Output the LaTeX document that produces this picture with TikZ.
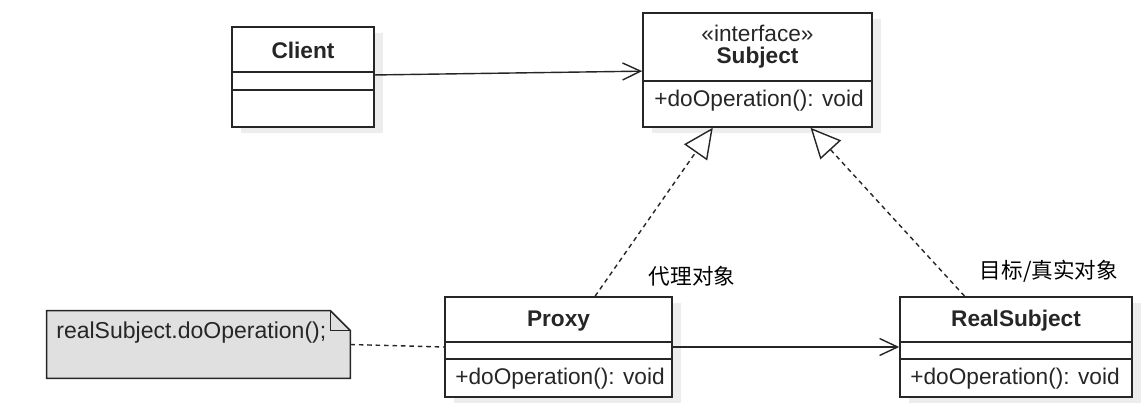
\documentclass[tikz,border=0pt]{standalone}
\usepackage{fontspec}
\setmainfont{Liberation Sans}
\newfontfamily\cjk{Noto Sans CJK SC}
\usetikzlibrary{arrows.meta,calc,shadows}
\definecolor{ink}{HTML}{262626}
\definecolor{notefill}{HTML}{E0E0E0}
\tikzset{
  umlbox/.style={draw=ink, line width=0.9pt, fill=white, inner sep=0pt,
    drop shadow={shadow xshift=0.18cm, shadow yshift=-0.12cm, fill=black!7, opacity=1}},
  divider/.style={draw=ink, line width=0.9pt},
  txt/.style={text=ink, font=\fontsize{12.9}{15}\selectfont, inner sep=0pt},
  title/.style={txt, font=\fontsize{12.9}{15}\selectfont\bfseries},
  assoc/.style={draw=ink, line width=0.8pt, -{Straight Barb[length=0.36cm, width=0.34cm, line width=0.8pt]}},
  realize/.style={draw=ink, line width=0.8pt, dash pattern=on 2.6pt off 2.2pt,
    -{Triangle[open, length=0.6cm, width=0.56cm, line width=0.8pt, fill=white]}},
  noteline/.style={draw=ink, line width=0.8pt, dash pattern=on 2.6pt off 2.2pt},
  cjklabel/.style={text=black, font=\cjk\fontsize{12.3}{14}\selectfont, inner sep=0pt}
}
\begin{document}
\begin{tikzpicture}[x=0.02cm, y=-0.02cm]
\useasboundingbox[fill=white] (0,0) rectangle (1146,415);

% Client
\node[umlbox, minimum width=142*0.02cm, minimum height=100*0.02cm] (Client) at (303,77) {};
\draw[divider] (232,72) -- (374,72);
\draw[divider] (232,90) -- (374,90);
\node[title] (ClientName) at (303,50) {Client};

% Subject
\node[umlbox, minimum width=229*0.02cm, minimum height=114*0.02cm] (Subject) at (757.5,70) {};
\draw[divider] (643,81) -- (872,81);
\node[txt] (SubjectStereo) at (757.5,33) {«interface»};
\node[title] (SubjectName) at (757.5,58) {Subject};
\node[txt, anchor=west] (SubjectOp) at (654,101) {+doOperation(): void};

% Proxy
\node[umlbox, minimum width=227*0.02cm, minimum height=100*0.02cm] (Proxy) at (558.5,347) {};
\draw[divider] (445,342) -- (672,342);
\draw[divider] (445,359) -- (672,359);
\node[title] (ProxyName) at (558.5,321) {Proxy};
\node[txt, anchor=west] (ProxyOp) at (455,379) {+doOperation(): void};

% RealSubject
\node[umlbox, minimum width=232*0.02cm, minimum height=100*0.02cm] (Real) at (1016,347) {};
\draw[divider] (900,342) -- (1132,342);
\draw[divider] (900,359) -- (1132,359);
\node[title] (RealName) at (1016,321) {RealSubject};
\node[txt, anchor=west] (RealOp) at (910,379) {+doOperation(): void};

% Note
\node[minimum width=303*0.02cm, minimum height=67*0.02cm, inner sep=0pt] (Note) at (198.5,344.5) {};
\draw[draw=ink, line width=0.9pt, fill=notefill]
  (Note.south west) -- (Note.north west) -- ($(Note.north east)+(-20,0)$)
  -- ($(Note.north east)+(0,20)$) -- (Note.south east) -- cycle;
\draw[draw=ink, line width=0.9pt]
  ($(Note.north east)+(-20,0)$) -- ($(Note.north east)+(-20,20)$) -- ($(Note.north east)+(0,20)$);
\node[txt, anchor=west, font=\fontsize{13.1}{16}\selectfont] (NoteText) at (56,333) {realSubject.doOperation();};

% Connectors
\draw[assoc] ($(Client.north east)!0.48!(Client.south east)$) -- ($(Subject.north west)!0.51!(Subject.south west)$);
\draw[assoc] (Proxy.east) -- (Real.west);
\draw[realize] ($(Proxy.north west)!0.66!(Proxy.north east)$) -- ($(Subject.south west)!0.306!(Subject.south east)$);
\draw[realize] ($(Real.north west)!0.28!(Real.north east)$) -- ($(Subject.south west)!0.73!(Subject.south east)$);
\draw[noteline] (Note.east) -- (Proxy.west);

% Labels
\node[cjklabel] (ProxyLabel) at (692,276) {代理对象};
\node[cjklabel] (RealLabel) at (1049,271) {目标/真实对象};
\end{tikzpicture}
\end{document}
